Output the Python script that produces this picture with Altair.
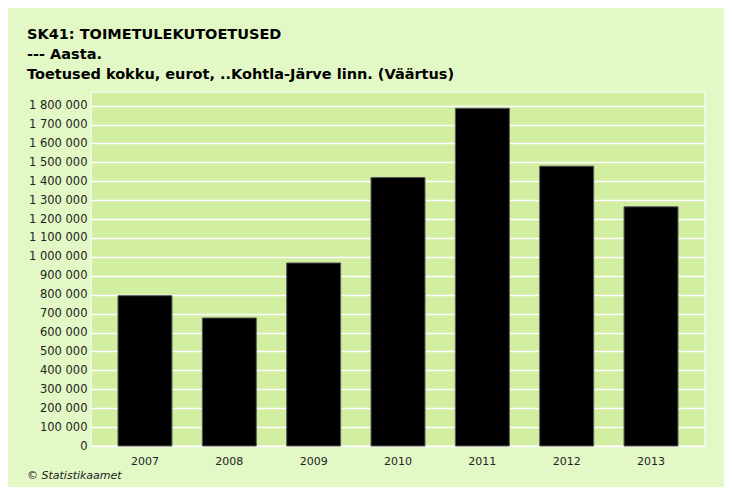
import altair as alt
import pandas as pd

years = ["2007", "2008", "2009", "2010", "2011", "2012", "2013"]
values = [795000, 677000, 968000, 1420000, 1786000, 1480000, 1265000]
title_lines = ["SK41: TOIMETULEKUTOETUSED", "--- Aasta.",
               "Toetused kokku, eurot, ..Kohtla-Järve linn. (Väärtus)"]
credit = ["© Statistikaamet"]
y_ticks = list(range(0, 1800001, 100000))

df = pd.DataFrame({"year": years, "value": values})
FONT = "DejaVu Sans"

bars = alt.Chart(df).mark_bar(color="black", stroke="#5a5a5a", strokeWidth=1).encode(
    x=alt.X("year:N", sort=years, title=None,
            scale=alt.Scale(paddingInner=0.36, paddingOuter=0.32),
            axis=alt.Axis(labelAngle=0, ticks=False, domain=False, labelFontSize=11,
                          labelFont=FONT, labelColor="#222222", labelPadding=9)),
    y=alt.Y("value:Q", title=None,
            scale=alt.Scale(domain=[0, 1872000], nice=False),
            axis=alt.Axis(values=y_ticks, ticks=False, domain=False, labelFontSize=11.5,
                          labelFont=FONT, labelColor="#222222", labelPadding=4,
                          gridColor="white", gridWidth=1.3, gridOpacity=1,
                          labelExpr="replace(format(datum.value, ',d'), /,/g, ' ')")),
)

credit_df = pd.DataFrame({"t": credit})
credit_text = alt.Chart(credit_df).mark_text(
    font=FONT, fontSize=11, fontStyle="italic", align="left", baseline="middle", color="#222222"
).encode(text="t:N", x=alt.value(-64), y=alt.value(384))

chart = alt.layer(bars, credit_text).properties(
    width=614, height=354,
    autosize=alt.AutoSizeParams(type="none"),
    padding={"left": 83, "top": 84, "right": 19, "bottom": 41},
    background="#E2F8C5",
    title=alt.Title(text=title_lines, anchor="start", frame="bounds", font=FONT,
                    fontSize=14.5, fontWeight="bold", color="black", lineHeight=20, offset=10),
).configure_view(fill="#D1EEA1", stroke="#EEF9E0", strokeWidth=2)

chart.save("out.html", embed_options={"renderer": "svg", "actions": False})
